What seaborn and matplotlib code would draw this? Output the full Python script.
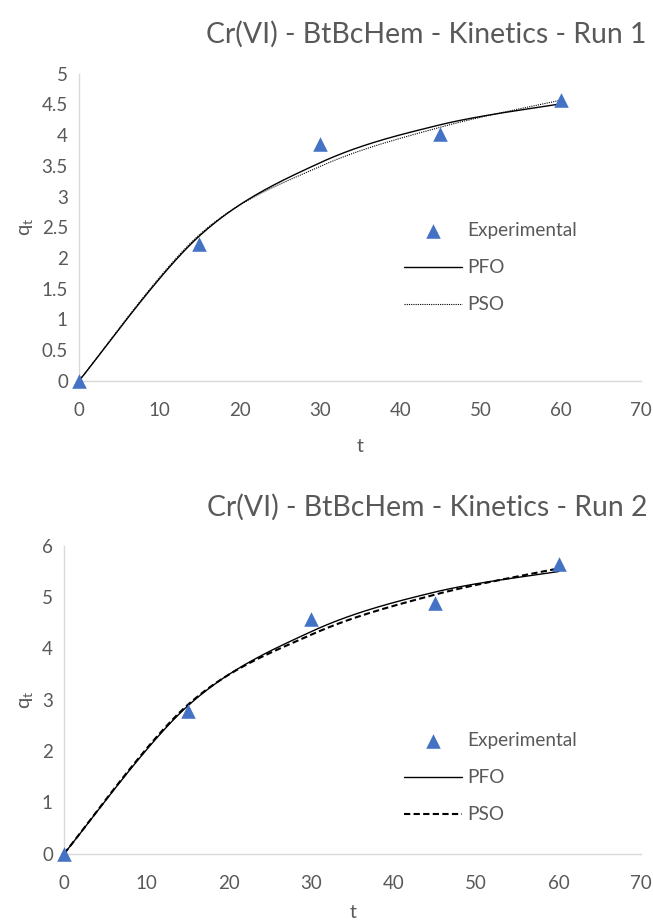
import numpy as np
import pandas as pd
import seaborn as sns
import matplotlib.pyplot as plt
from matplotlib.ticker import FuncFormatter

# data
t = [0, 15, 30, 45, 60]
exp_run1 = [0, 2.22, 3.85, 4.02, 4.58]
pfo_run1 = [0, 2.36, 3.55, 4.17, 4.51]
pso_run1 = [0, 2.38, 3.49, 4.13, 4.57]
exp_run2 = [0, 2.78, 4.58, 4.88, 5.64]
pfo_run2 = [0, 2.88, 4.33, 5.10, 5.50]
pso_run2 = [0, 2.90, 4.27, 5.05, 5.56]
titles = ["Cr(VI) - BtBcHem - Kinetics - Run 1", "Cr(VI) - BtBcHem - Kinetics - Run 2"]

sns.set_theme(style="white")
plt.rcParams["font.family"] = ["Lato", "DejaVu Sans"]

GRAY = "#595959"
BLUE = "#4472C4"


def smooth(x, y, n=40):
    # Excel-like smoothed line (Catmull-Rom bezier)
    x = np.asarray(x, float)
    y = np.asarray(y, float)
    px = np.concatenate([[x[0]], x, [x[-1]]])
    py = np.concatenate([[y[0]], y, [y[-1]]])
    xs, ys = [], []
    s = np.linspace(0, 1, n)
    for i in range(1, len(px) - 2):
        p0 = np.array([px[i], py[i]])
        p3 = np.array([px[i + 1], py[i + 1]])
        p1 = p0 + (np.array([px[i + 1], py[i + 1]]) - np.array([px[i - 1], py[i - 1]])) / 6
        p2 = p3 - (np.array([px[i + 2], py[i + 2]]) - np.array([px[i], py[i]])) / 6
        b = ((1 - s) ** 3)[:, None] * p0 + (3 * (1 - s) ** 2 * s)[:, None] * p1 \
            + (3 * (1 - s) * s ** 2)[:, None] * p2 + (s ** 3)[:, None] * p3
        xs.extend(b[:, 0])
        ys.extend(b[:, 1])
    return pd.DataFrame({"t": xs, "q": ys})


fig = plt.figure(figsize=(6.53, 9.22), dpi=100)
ax1 = fig.add_axes([0.121, 0.587, 0.861, 0.333])
ax2 = fig.add_axes([0.098, 0.074, 0.884, 0.334])

runs = [
    (ax1, exp_run1, pfo_run1, pso_run1, 5, 0.5, (0, (1.0, 1.0)), 0.8, (0.578, 0.368), 14),
    (ax2, exp_run2, pfo_run2, pso_run2, 6, 1, (0, (3, 1.6)), 1.5, (0.589, 0.247), 9),
]

for i, (ax, exp, pfo, pso, ymax, ystep, pso_ls, pso_lw, leg_pos, xpad) in enumerate(runs):
    df_exp = pd.DataFrame({"t": t, "q": exp})
    sns.scatterplot(data=df_exp, x="t", y="q", ax=ax, marker="^", s=110,
                    color=BLUE, edgecolor=BLUE, linewidth=0, label="Experimental",
                    clip_on=False, zorder=4)
    sns.lineplot(data=smooth(t, pfo), x="t", y="q", ax=ax, color="black",
                 linewidth=1.0, label="PFO", sort=False, estimator=None)
    sns.lineplot(data=smooth(t, pso), x="t", y="q", ax=ax, color="black",
                 linewidth=pso_lw, linestyle=pso_ls, label="PSO", sort=False, estimator=None)

    ax.set_xlim(0, 70)
    ax.set_ylim(0, ymax)
    ax.set_xticks(np.arange(0, 71, 10))
    ax.set_yticks(np.arange(0, ymax + ystep / 2, ystep))
    ax.yaxis.set_major_formatter(FuncFormatter(lambda v, p: f"{v:g}"))
    ax.tick_params(axis="both", length=0, labelsize=13.5, labelcolor=GRAY)
    ax.tick_params(axis="x", pad=15)
    ax.tick_params(axis="y", pad=8)
    for side in ["top", "right"]:
        ax.spines[side].set_visible(False)
    for side in ["left", "bottom"]:
        ax.spines[side].set_color("#D9D9D9")
        ax.spines[side].set_linewidth(1)

    ax.set_xlabel("t", fontsize=14, color=GRAY, labelpad=xpad)
    ax.set_ylabel(r"q$_\mathregular{t}$", fontsize=14.5, color=GRAY, labelpad=4)
    ax.set_title(titles[i], loc="right", fontsize=20.4, color=GRAY, pad=22, x=1.01)

    ax.legend(loc="center left", bbox_to_anchor=leg_pos, frameon=False,
              fontsize=13.7, labelcolor=GRAY, handlelength=3.05, handletextpad=0.3,
              labelspacing=1.05, borderpad=0, borderaxespad=0, markerscale=1.0)

fig.savefig("out.png", dpi=100)
